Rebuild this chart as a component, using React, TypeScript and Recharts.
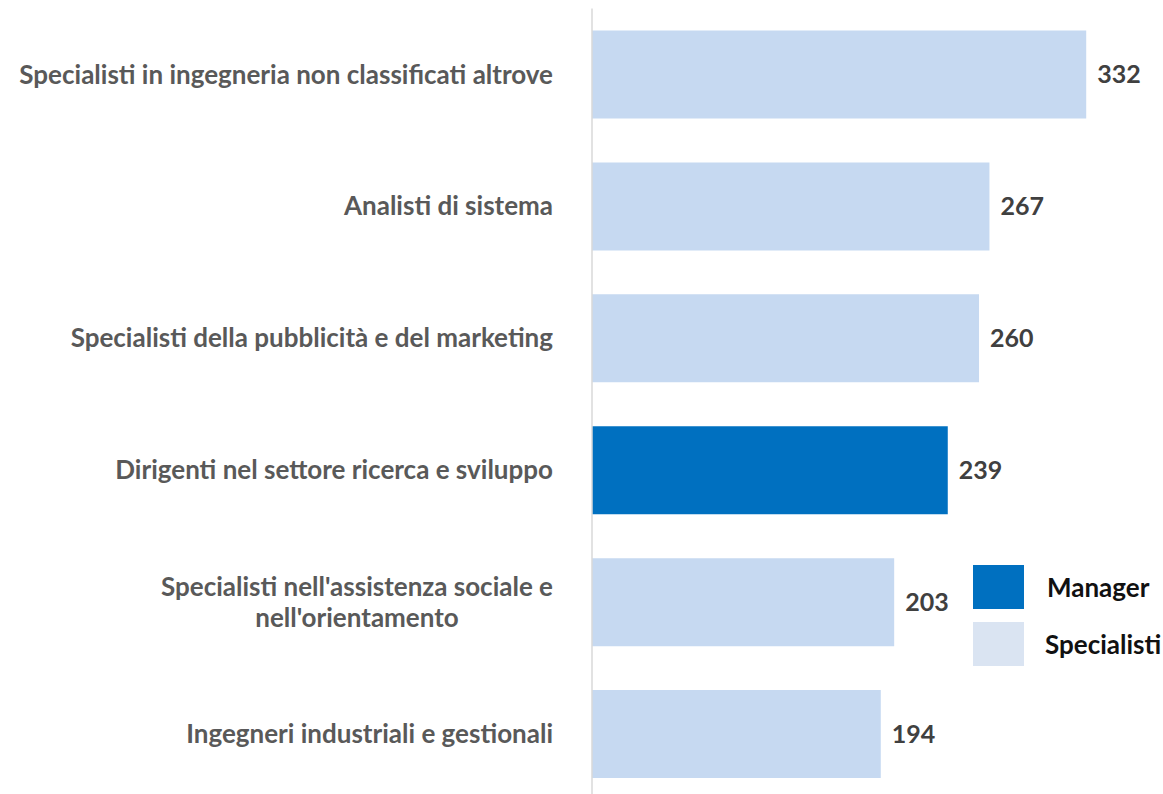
import React from 'react';
import { BarChart, Bar, XAxis, YAxis, Cell, LabelList, Legend } from 'recharts';

const categories = [
  'Specialisti in ingegneria non classificati altrove',
  'Analisti di sistema',
  'Specialisti della pubblicità e del marketing',
  'Dirigenti nel settore ricerca e sviluppo',
  "Specialisti nell'assistenza sociale e\nnell'orientamento",
  'Ingegneri industriali e gestionali',
];
const values = [332, 267, 260, 239, 203, 194];
const groups = ['Specialisti', 'Specialisti', 'Specialisti', 'Manager', 'Specialisti', 'Specialisti'];
const legendItems = ['Manager', 'Specialisti'];

const COLORS: Record<string, string> = { Manager: '#0070C0', Specialisti: '#C6D9F1' };
const LEGEND_COLORS: Record<string, string> = { Manager: '#0070C0', Specialisti: '#DAE4F2' };

const data = categories.map((c, i) => ({ name: c, value: values[i], group: groups[i] }));

const FONT = 'Lato, "Open Sans", sans-serif';
const LABEL_SIZE = 26;

function measure(text: string, size: number) {
  try {
    const cv = document.createElement('canvas');
    const ctx = cv.getContext('2d');
    if (!ctx) return text.length * size * 0.5;
    ctx.font = `bold ${size}px Lato`;
    return ctx.measureText(text).width;
  } catch {
    return text.length * size * 0.5;
  }
}

const Tick = (props: any) => {
  const { y, payload } = props;
  const lines = String(payload.value).split('\n');
  const right = 553;
  if (lines.length === 1) {
    return (
      <text x={right} y={y} dy="0.35em" textAnchor="end" fill="#595959" fontFamily={FONT} fontWeight={700} fontSize={LABEL_SIZE}>
        {lines[0]}
      </text>
    );
  }
  const w = measure(lines[0], LABEL_SIZE);
  const cx = right - w / 2;
  const lh = 31;
  const start = y - ((lines.length - 1) * lh) / 2;
  return (
    <g>
      {lines.map((l, i) => (
        <text key={i} x={cx} y={start + i * lh} dy="0.35em" textAnchor="middle" fill="#595959" fontFamily={FONT} fontWeight={700} fontSize={LABEL_SIZE}>
          {l}
        </text>
      ))}
    </g>
  );
};

const LegendContent = () => (
  <div style={{ fontFamily: FONT }}>
    {legendItems.map((k, i) => (
      <div key={k} style={{ display: 'flex', alignItems: 'center', height: 44, marginBottom: i === 0 ? 13 : 0 }}>
        <div style={{ width: 51, height: 44, background: LEGEND_COLORS[k] }} />
        <span style={{ marginLeft: k === 'Manager' ? 23 : 21, fontWeight: 700, fontSize: 26, color: '#111' }}>{k}</span>
      </div>
    ))}
  </div>
);

export default function App() {
  return (
    <div style={{ position: 'fixed', left: 0, top: 0, width: 1163, height: 794, overflow: 'hidden', background: '#fff' }}>
      <BarChart
        width={1163}
        height={800}
        data={data}
        layout="vertical"
        margin={{ top: 8.5, right: 50, bottom: 0, left: 0 }}
      >
        <XAxis type="number" domain={[0, 350]} hide />
        <YAxis
          type="category"
          dataKey="name"
          width={592}
          axisLine={{ stroke: '#D9D9D9', strokeWidth: 1.5 }}
          tickLine={false}
          tick={<Tick />}
          interval={0}
        />
        <Legend
          content={<LegendContent />}
          wrapperStyle={{ position: 'absolute', left: 973, top: 565, width: 190, height: 0, overflow: 'visible', bottom: 'auto', right: 'auto' }}
        />
        <Bar dataKey="value" barSize={88} isAnimationActive={false}>
          {data.map((d, i) => (
            <Cell key={i} fill={COLORS[d.group]} />
          ))}
          <LabelList
            dataKey="value"
            position="right"
            offset={11}
            style={{ fill: '#404040', fontFamily: FONT, fontWeight: 700, fontSize: 25 }}
          />
        </Bar>
      </BarChart>
    </div>
  );
}
